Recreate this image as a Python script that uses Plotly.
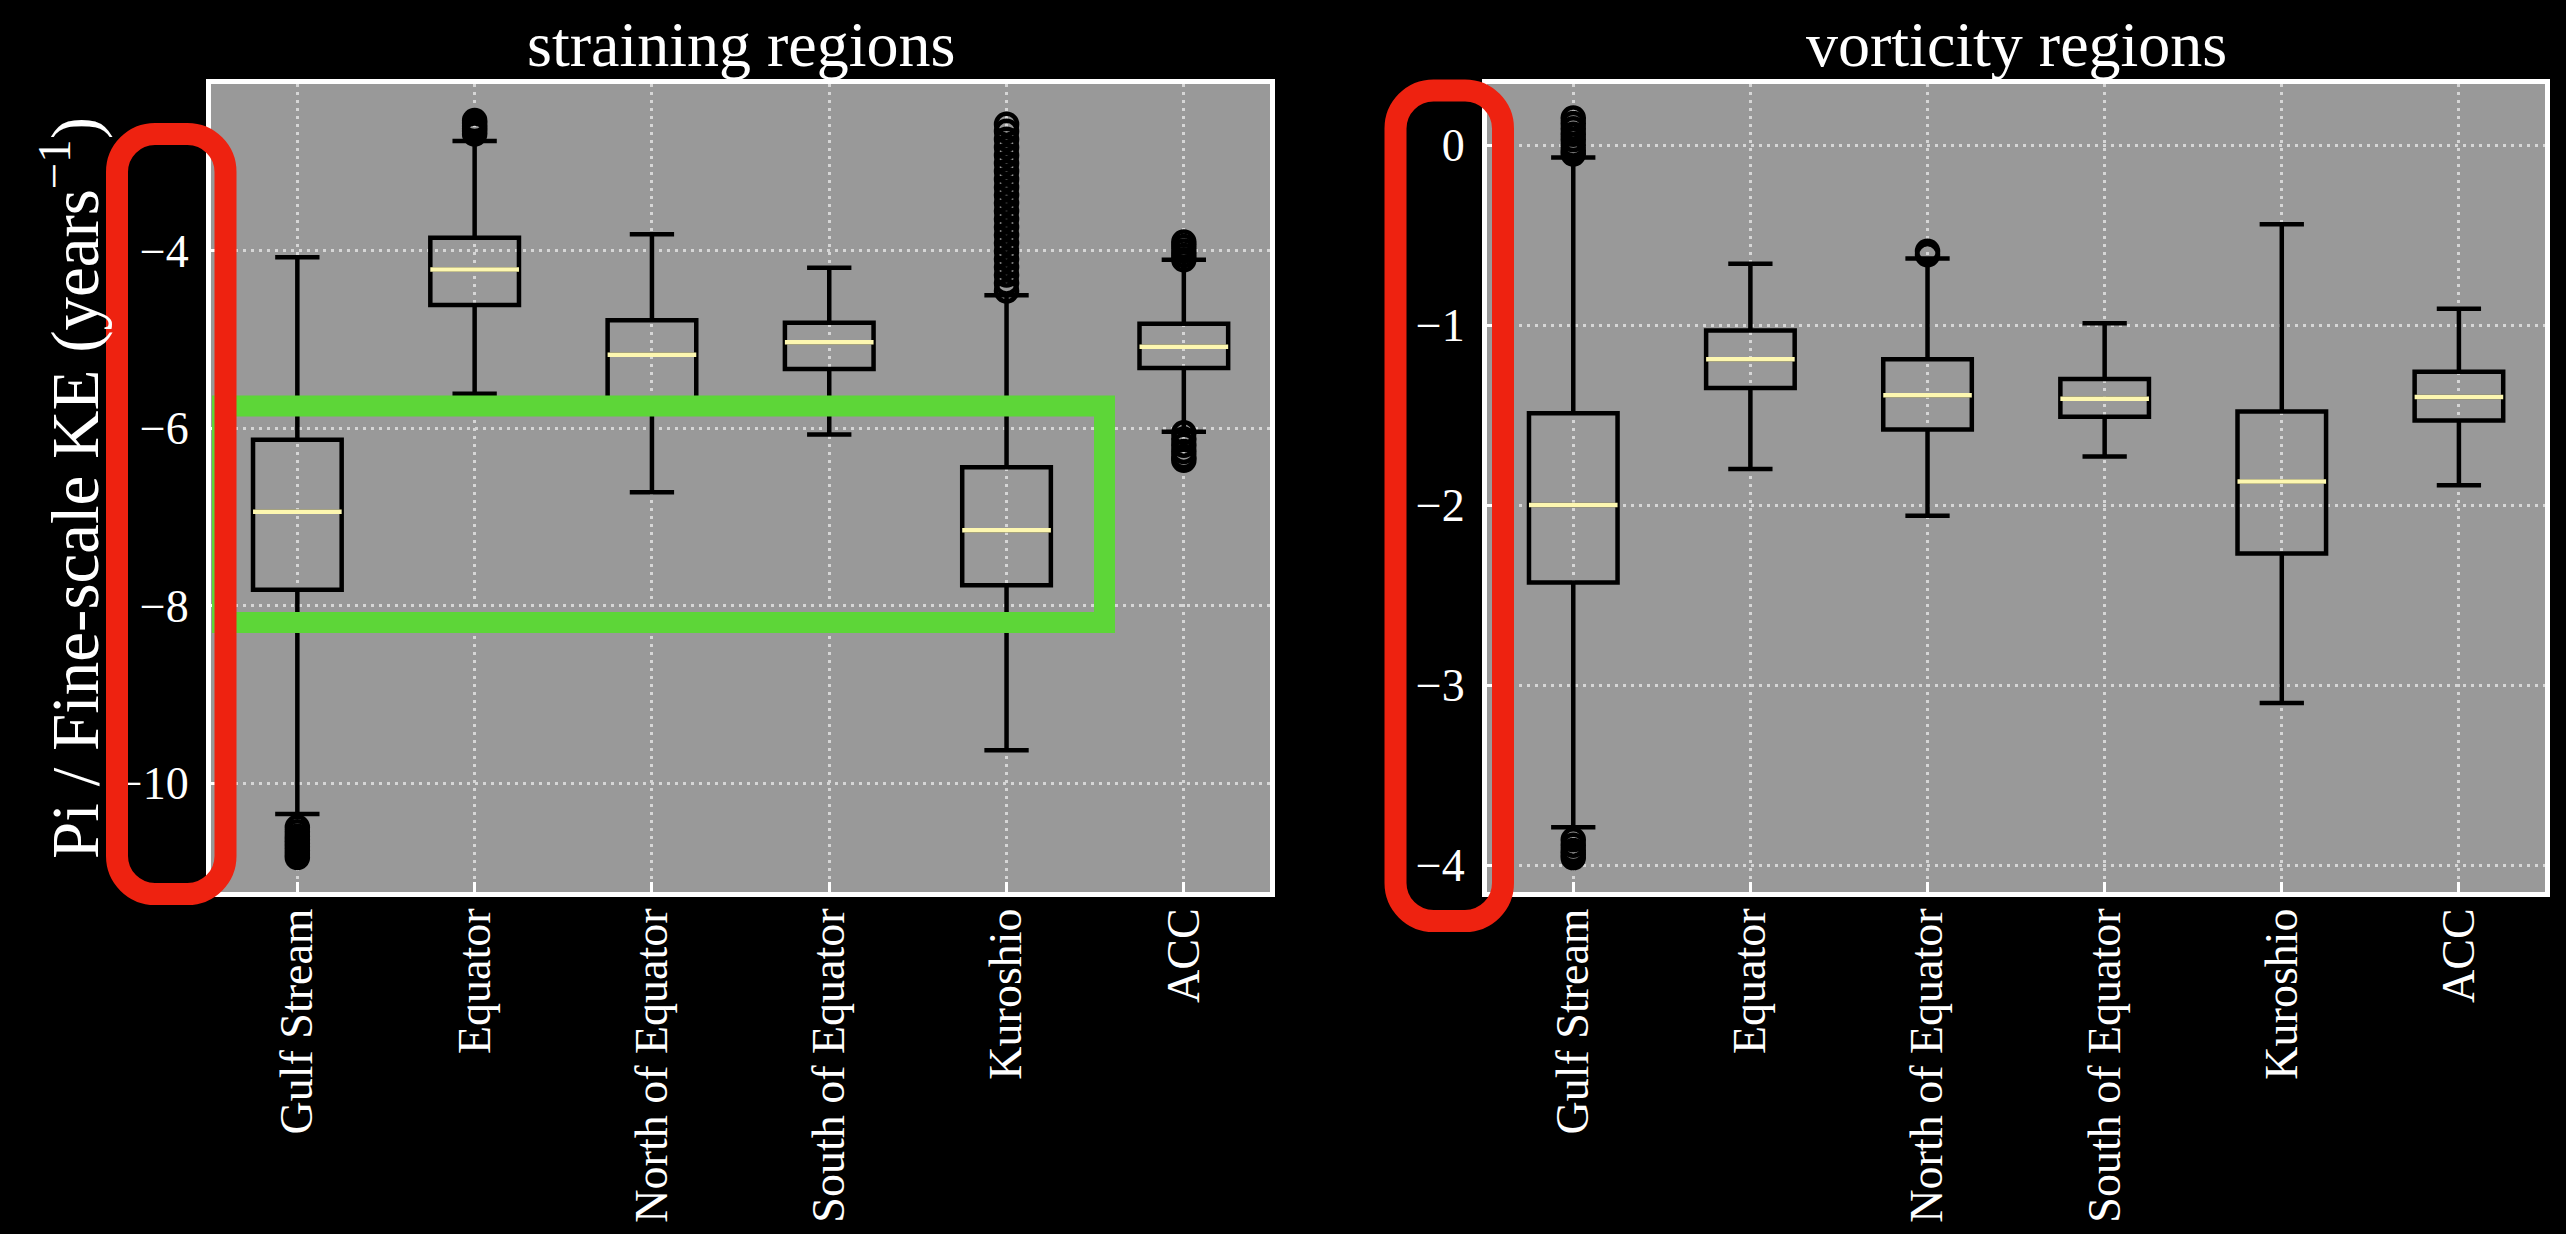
import plotly.graph_objects as go

# ---- data -------------------------------------------------------------
categories = ["Gulf Stream", "Equator", "North of Equator",
              "South of Equator", "Kuroshio", "ACC"]

# straining regions: box statistics
strain_lower = [-10.35, -5.61, -6.72, -6.07, -9.63, -6.04]
strain_q1 = [-7.82, -4.61, -5.75, -5.33, -7.77, -5.32]
strain_median = [-6.94, -4.21, -5.17, -5.03, -7.15, -5.08]
strain_q3 = [-6.13, -3.85, -4.78, -4.81, -6.44, -4.82]
strain_upper = [-4.07, -2.76, -3.81, -4.19, -4.50, -4.10]
strain_outliers = [
    [-10.50, -10.55, -10.60, -10.64, -10.68, -10.72, -10.76, -10.80, -10.84],
    [-2.53, -2.56, -2.59, -2.62, -2.65, -2.68],
    [],
    [],
    [-2.57, -2.65, -2.74, -2.83, -2.92, -3.01, -3.10, -3.19, -3.28,
     -3.37, -3.46, -3.55, -3.64, -3.73, -3.82, -3.91, -4.00, -4.09,
     -4.18, -4.27, -4.36, -4.45],
    [-3.90, -3.95, -4.00, -4.05, -4.10, -6.05, -6.12, -6.19, -6.26, -6.32, -6.36],
]

# vorticity regions: box statistics
vort_lower = [-3.79, -1.80, -2.06, -1.73, -3.10, -1.89]
vort_q1 = [-2.43, -1.35, -1.58, -1.51, -2.27, -1.53]
vort_median = [-2.00, -1.19, -1.39, -1.41, -1.87, -1.40]
vort_q3 = [-1.49, -1.03, -1.19, -1.30, -1.48, -1.26]
vort_upper = [-0.07, -0.66, -0.63, -0.99, -0.44, -0.91]
vort_outliers = [
    [0.15, 0.12, 0.09, 0.06, 0.03, 0.00, -0.03, -0.05,
     -3.86, -3.89, -3.92, -3.94, -3.96],
    [],
    [-0.59, -0.61],
    [],
    [],
    [],
]

panel_titles = ["straining regions", "vorticity regions"]
y_label = "Pi / Fine-scale KE (years<sup>−1</sup>)"

# ---- page geometry (pixels) ------------------------------------------
FIG_W, FIG_H = 2566, 1234
M_L, M_R, M_T, M_B = 211, 21, 84, 342
PAPER_W = FIG_W - M_L - M_R
PAPER_H = FIG_H - M_T - M_B


def px(x):
    return (x - M_L) / PAPER_W


def py(y):
    return (FIG_H - M_B - y) / PAPER_H


FONT = "Liberation Serif"
BOX_W = 0.5
MEDIAN_COLOR = "#fdf7b0"
GRID = dict(showgrid=True, gridcolor="#d6d6d6", gridwidth=2.5, griddash="3px,5px")
FRAME = dict(showline=True, linecolor="white", linewidth=5, mirror=True,
             ticks="inside", ticklen=10, tickwidth=3, tickcolor="white",
             zeroline=False, automargin=False)

fig = go.Figure()
positions = list(range(len(categories)))


def add_panel(idx, lower, q1, med, q3, upper, outliers):
    xa = "x" if idx == 0 else "x2"
    ya = "y" if idx == 0 else "y2"
    fig.add_trace(go.Box(
        x=positions, q1=q1, median=med, q3=q3,
        lowerfence=lower, upperfence=upper,
        width=BOX_W, whiskerwidth=0.5, boxpoints=False,
        line=dict(color="black", width=4.5), fillcolor="rgba(0,0,0,0)",
        xaxis=xa, yaxis=ya, showlegend=False, hoverinfo="skip"))
    # medians in a light colour, over the black box outline
    mx, my = [], []
    for p, m in zip(positions, med):
        mx += [p - BOX_W / 2, p + BOX_W / 2, None]
        my += [m, m, None]
    fig.add_trace(go.Scatter(
        x=mx, y=my, mode="lines", line=dict(color=MEDIAN_COLOR, width=4.5),
        xaxis=xa, yaxis=ya, showlegend=False, hoverinfo="skip"))
    ox, oy = [], []
    for p, vals in zip(positions, outliers):
        ox += [p] * len(vals)
        oy += vals
    fig.add_trace(go.Scatter(
        x=ox, y=oy, mode="markers",
        marker=dict(symbol="circle-open", size=21,
                    line=dict(color="black", width=4.5), color="black"),
        xaxis=xa, yaxis=ya, showlegend=False, hoverinfo="skip"))


add_panel(0, strain_lower, strain_q1, strain_median, strain_q3,
          strain_upper, strain_outliers)
add_panel(1, vort_lower, vort_q1, vort_median, vort_q3,
          vort_upper, vort_outliers)

left_dom = [0, px(1270)]
right_dom = [px(1487), 1]
xcommon = dict(range=[-0.487, 5.486], tickvals=positions, ticktext=categories,
               tickangle=-90, tickfont=dict(family=FONT, size=46, color="white"),
               ticklabelstandoff=-7, **GRID, **FRAME)
ycommon = dict(tickfont=dict(family=FONT, size=46, color="white"),
               ticklabelstandoff=8, **GRID, **FRAME)

fig.update_layout(
    width=FIG_W, height=FIG_H,
    margin=dict(l=M_L, r=M_R, t=M_T, b=M_B, pad=0),
    paper_bgcolor="black", plot_bgcolor="#999999",
    xaxis=dict(domain=left_dom, anchor="y", **xcommon),
    xaxis2=dict(domain=right_dom, anchor="y2", **xcommon),
    yaxis=dict(domain=[0, 1], anchor="x", range=[-11.229, -2.117],
               tick0=0, dtick=2, **ycommon),
    yaxis2=dict(domain=[0, 1], anchor="x2", range=[-4.150, 0.339],
                tick0=0, dtick=1, **ycommon),
    showlegend=False,
)

# panel titles and the shared y-axis label
for dom, title in zip([left_dom, right_dom], panel_titles):
    fig.add_annotation(x=(dom[0] + dom[1]) / 2, y=1, xref="paper", yref="paper",
                       xanchor="center", yanchor="bottom", yshift=2,
                       text=title, showarrow=False,
                       font=dict(family=FONT, size=64, color="white"))
fig.add_annotation(x=px(70), y=0.5, xref="paper", yref="paper",
                   xanchor="center", yanchor="middle", textangle=-90,
                   text=y_label, showarrow=False,
                   font=dict(family=FONT, size=67, color="white"))


# highlight outlines drawn over the figure
def rounded_rect(x0, y0, x1, y1, r):
    k = 0.5523 * r

    def P(x, y):
        return f"{px(x)},{py(y)}"
    return (f"M {P(x0 + r, y0)} L {P(x1 - r, y0)} "
            f"C {P(x1 - r + k, y0)} {P(x1, y0 + r - k)} {P(x1, y0 + r)} "
            f"L {P(x1, y1 - r)} "
            f"C {P(x1, y1 - r + k)} {P(x1 - r + k, y1)} {P(x1 - r, y1)} "
            f"L {P(x0 + r, y1)} "
            f"C {P(x0 + r - k, y1)} {P(x0, y1 - r + k)} {P(x0, y1 - r)} "
            f"L {P(x0, y0 + r)} "
            f"C {P(x0, y0 + r - k)} {P(x0 + r - k, y0)} {P(x0 + r, y0)} Z")


fig.add_shape(type="rect", xref="paper", yref="paper",
              x0=px(222.5), x1=px(1104.5), y0=py(406), y1=py(622.5),
              line=dict(color="#5dd638", width=21), layer="above")
fig.add_shape(type="path", xref="paper", yref="paper",
              path=rounded_rect(117, 134, 225.5, 894, 38),
              line=dict(color="#ee2210", width=22), layer="above")
fig.add_shape(type="path", xref="paper", yref="paper",
              path=rounded_rect(1395.5, 90.5, 1503, 921, 38),
              line=dict(color="#ee2210", width=22), layer="above")

fig.write_html("out.html")
